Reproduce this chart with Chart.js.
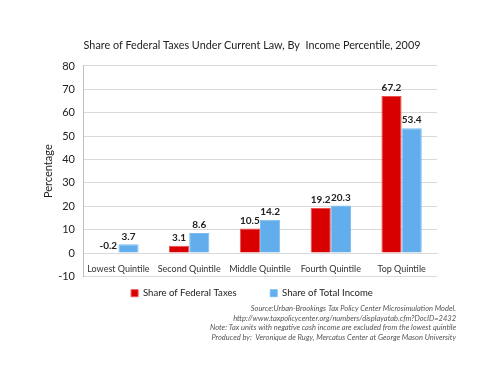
<!DOCTYPE html>
<html lang="en">
<head>
    <meta charset="UTF-8">
    <title>Share of Federal Taxes</title>
    <script src="https://cdn.jsdelivr.net/npm/chart.js"></script>
    <style>
        body { margin: 0; background: #fff; }
        #wrap { width: 500px; height: 386px; }
    </style>
</head>
<body>
    <div id="wrap"><canvas id="taxChart"></canvas></div>
    <script>
        const categories = ['Lowest Quintile', 'Second Quintile', 'Middle Quintile', 'Fourth Quintile', 'Top Quintile'];
        const federalTaxes = [-0.2, 3.1, 10.5, 19.2, 67.2];
        const totalIncome = [3.7, 8.6, 14.2, 20.3, 53.4];
        const notes = [
            'Source:Urban-Brookings Tax Policy Center Microsimulation Model.',
            'http://www.taxpolicycenter.org/numbers/displayatab.cfm?DocID=2432',
            'Note: Tax units with negative cash income are excluded from the lowest quintile',
            'Produced by:  Veronique de Rugy, Mercatus Center at George Mason University'
        ];

        const FONT = 'Lato, "Open Sans", sans-serif';

        // value labels above each bar
        const barLabels = {
            id: 'barLabels',
            afterDatasetsDraw(chart) {
                const ctx = chart.ctx;
                ctx.save();
                ctx.font = 'bold 10px ' + FONT;
                ctx.fillStyle = '#222';
                ctx.textAlign = 'center';
                ctx.textBaseline = 'bottom';
                chart.data.datasets.forEach((ds, i) => {
                    chart.getDatasetMeta(i).data.forEach((bar, j) => {
                        const top = Math.min(bar.y, bar.base);
                        ctx.fillText(ds.data[j].toFixed(1), bar.x, top - 3);
                    });
                });
                ctx.restore();
            }
        };

        // source notes under the legend
        const sourceNotes = {
            id: 'sourceNotes',
            afterDraw(chart) {
                const ctx = chart.ctx;
                ctx.save();
                ctx.font = 'italic 7.5px ' + FONT;
                ctx.fillStyle = '#555';
                ctx.textAlign = 'right';
                ctx.textBaseline = 'middle';
                notes.forEach((line, i) => {
                    ctx.fillText(line, 456, 309 + i * 9.4);
                });
                ctx.restore();
            }
        };

        new Chart(document.getElementById('taxChart'), {
            type: 'bar',
            data: {
                labels: categories,
                datasets: [{
                    label: 'Share of Federal Taxes',
                    data: federalTaxes,
                    backgroundColor: '#D80000',
                    borderColor: '#E95050',
                    borderWidth: 1
                }, {
                    label: 'Share of Total Income',
                    data: totalIncome,
                    backgroundColor: '#62AEEC',
                    borderColor: '#7EBDF0',
                    borderWidth: 1
                }]
            },
            options: {
                responsive: true,
                maintainAspectRatio: false,
                animation: false,
                devicePixelRatio: 1,
                layout: { padding: { left: 30, right: 26, top: 0, bottom: 78 } },
                datasets: {
                    bar: { categoryPercentage: 0.57, barPercentage: 1.0 }
                },
                scales: {
                    x: {
                        position: { y: 0 },
                        grid: { display: false },
                        border: { color: '#D9D9D9' },
                        ticks: {
                            color: '#333',
                            font: { family: FONT, size: 9 },
                            padding: 3,
                            autoSkip: false,
                            maxRotation: 0
                        }
                    },
                    y: {
                        min: -10,
                        max: 80,
                        ticks: {
                            stepSize: 10,
                            color: '#222',
                            font: { family: FONT, size: 11 },
                            padding: 8
                        },
                        grid: { color: '#D9D9D9', drawTicks: false },
                        border: { color: '#BFBFBF' },
                        title: {
                            display: true,
                            text: 'Percentage',
                            color: '#222',
                            font: { family: FONT, size: 11 },
                            padding: { top: 12, bottom: 0 }
                        },
                        afterFit(scale) { scale.width = 53; }
                    },
                    yRight: {
                        position: 'right',
                        min: -10,
                        max: 80,
                        grid: { display: false },
                        border: { display: false },
                        ticks: { display: false },
                        afterFit(scale) { scale.width = 37; }
                    }
                },
                plugins: {
                    title: {
                        display: true,
                        text: 'Share of Federal Taxes Under Current Law, By  Income Percentile, 2009',
                        color: '#222',
                        font: { family: FONT, size: 10.8, weight: 'normal' },
                        padding: { top: 39, bottom: 14 }
                    },
                    legend: {
                        position: 'bottom',
                        labels: {
                            boxWidth: 7,
                            boxHeight: 7,
                            padding: 12,
                            color: '#222',
                            font: { family: FONT, size: 9.6 },
                            // wider gap between the two legend entries
                            generateLabels(chart) {
                                const items = Chart.defaults.plugins.legend.labels.generateLabels(chart);
                                items.forEach((it, i) => {
                                    if (i < items.length - 1) it.text += '\u2003\u2003\u2003';
                                });
                                return items;
                            }
                        }
                    },
                    tooltip: { enabled: false }
                }
            },
            plugins: [barLabels, sourceNotes]
        });
    </script>
</body>
</html>
